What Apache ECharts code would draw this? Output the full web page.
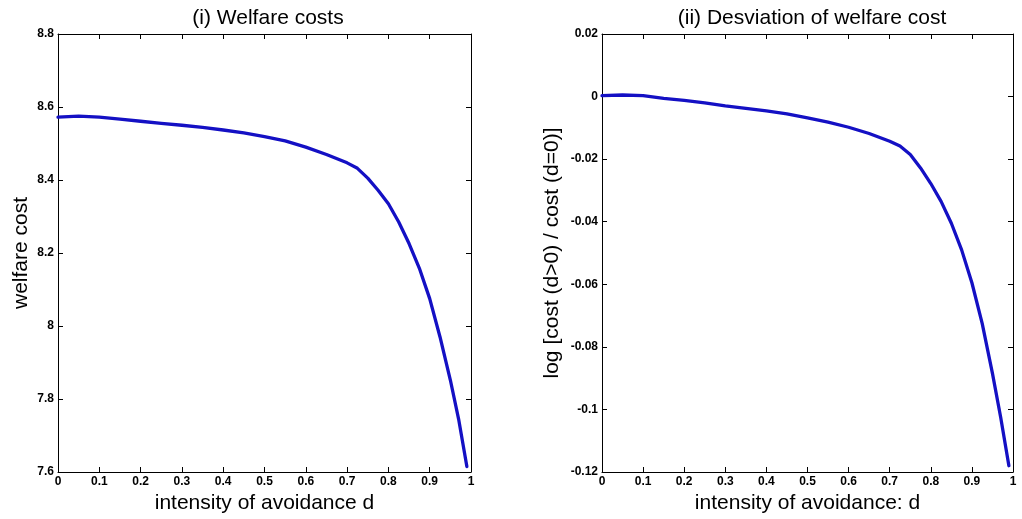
<!DOCTYPE html>
<html>
<head>
<meta charset="utf-8">
<script src="https://cdn.jsdelivr.net/npm/echarts@6/dist/echarts.min.js"></script>
<style>html,body{margin:0;padding:0;background:#fff;}#c{width:1022px;height:519px;}</style>
</head>
<body>
<div id="c"></div>
<script>
const avoidance = [0,0.05,0.1,0.15,0.2,0.25,0.3,0.35,0.4,0.45,0.5,0.55,0.6,0.65,0.7,0.725,0.75,0.775,0.8,0.825,0.85,0.875,0.9,0.925,0.95,0.97,0.99];
const welfareCost = [8.572,8.575,8.572,8.567,8.561,8.555,8.550,8.544,8.537,8.529,8.519,8.507,8.490,8.470,8.447,8.432,8.405,8.372,8.335,8.285,8.226,8.158,8.075,7.970,7.852,7.745,7.615];
const costDeviation = [0.0003,0.0005,0.0003,-0.0006,-0.0012,-0.0020,-0.0030,-0.0038,-0.0046,-0.0055,-0.0068,-0.0082,-0.0098,-0.0118,-0.0143,-0.0158,-0.0185,-0.0228,-0.0278,-0.0335,-0.0405,-0.0490,-0.0595,-0.0725,-0.0885,-0.1025,-0.1180];
const titles = ['(i) Welfare costs','(ii) Desviation of welfare cost'];
const xNames = ['intensity of avoidance d','intensity of avoidance: d'];
const yNames = ['welfare cost','log [cost (d>0) / cost (d=0)]'];

const tickFont = {fontFamily:'"Liberation Sans Narrow","Liberation Sans",Arial,sans-serif',fontWeight:'bold',fontSize:12,color:'#000'};
const nameFont = {fontFamily:'"Liberation Sans",Arial,sans-serif',fontSize:21,color:'#000',fontWeight:'normal'};
const lineStyle = {color:'#000',width:1};

function xAx(gi, pos, show){
  return {type:'value',gridIndex:gi,position:pos,min:0,max:1,interval:0.1,
    name: show? xNames[gi]:'', nameLocation:'middle', nameGap:20, nameTextStyle:nameFont,
    axisLine:{show:true,onZero:false,lineStyle},
    axisTick:{show:true,inside:true,length:5,lineStyle},
    axisLabel:{show:show,margin:4,...tickFont,formatter:v=>String(+v.toFixed(1))},
    splitLine:{show:false}};
}
function yAx(gi, pos, show, mn, mx, iv, gap){
  return {type:'value',gridIndex:gi,position:pos,min:mn,max:mx,interval:iv,
    name: show? yNames[gi]:'', nameLocation:'middle', nameGap:gap, nameTextStyle:nameFont,
    axisLine:{show:true,onZero:false,lineStyle},
    axisTick:{show:true,inside:true,length:5,lineStyle},
    axisLabel:{show:show,margin:4,...tickFont,formatter:v=>String(+v.toFixed(2))},
    splitLine:{show:false}};
}

const chart = echarts.init(document.getElementById('c'),null,{renderer:'canvas'});
chart.setOption({
  animation:false,
  backgroundColor:'#fff',
  title:[
    {text:titles[0],left:263,top:3,textAlign:'center',textStyle:nameFont},
    {text:titles[1],left:807,top:3,textAlign:'center',textStyle:nameFont}
  ],
  grid:[
    {left:58,right:551,top:34,bottom:47},
    {left:602,right:9,top:34,bottom:47}
  ],
  xAxis:[xAx(0,'bottom',true),xAx(0,'top',false),xAx(1,'bottom',true),xAx(1,'top',false)],
  yAxis:[
    yAx(0,'left',true,7.6,8.8,0.2,26),
    yAx(0,'right',false,7.6,8.8,0.2,26),
    yAx(1,'left',true,-0.12,0.02,0.02,39),
    yAx(1,'right',false,-0.12,0.02,0.02,39)
  ],
  series:[
    {type:'line',xAxisIndex:0,yAxisIndex:0,showSymbol:false,smooth:false,
     data:avoidance.map((d,i)=>[d,welfareCost[i]]),lineStyle:{color:'#1410c4',width:3.3,join:'round',cap:'round'}},
    {type:'line',xAxisIndex:2,yAxisIndex:2,showSymbol:false,smooth:false,
     data:avoidance.map((d,i)=>[d,costDeviation[i]]),lineStyle:{color:'#1410c4',width:3.3,join:'round',cap:'round'}}
  ]
});
</script>
</body>
</html>
